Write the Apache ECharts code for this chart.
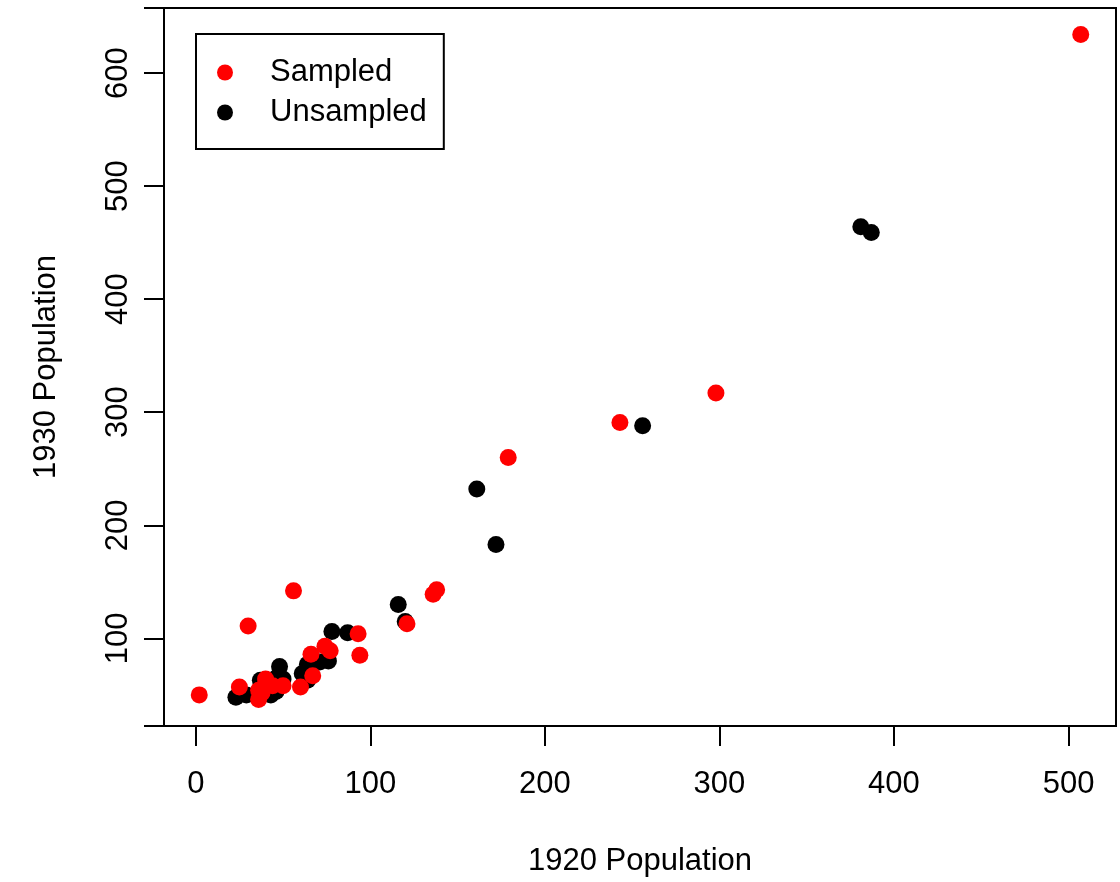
<!DOCTYPE html>
<html>
<head>
<meta charset="utf-8">
<script src="https://cdn.jsdelivr.net/npm/echarts@6/dist/echarts.min.js"></script>
<style>
html,body{margin:0;padding:0;background:#fff;}
#chart{width:1120px;height:882px;}
</style>
</head>
<body>
<div id="chart"></div>
<script>
// 1920 / 1930 populations (thousands)
const sampled1920 = [138, 93, 179, 30, 2, 38, 25, 298, 74, 50, 60, 507, 77, 40, 136, 243, 94, 36, 67, 66, 121, 44, 56, 40, 36];
const sampled1930 = [143, 104, 260, 111, 50, 52, 57, 317, 93, 58, 57, 634, 89, 60, 139, 291, 85, 46, 67, 86, 113, 58, 142, 64, 54];
const unsampled1920 = [61, 48, 37, 29, 23, 46, 71, 76, 381, 387, 78, 50, 64, 256, 45, 120, 172, 46, 64, 116, 87, 43, 43, 161];
const unsampled1930 = [69, 75, 63, 50, 48, 53, 79, 80, 464, 459, 106, 64, 77, 288, 53, 115, 183, 65, 63, 130, 105, 61, 50, 232];
const xTicks = [0, 100, 200, 300, 400, 500];
const yTicks = [100, 200, 300, 400, 500, 600];
const seriesNames = ['Sampled', 'Unsampled'];
const xName = '1920 Population';
const yName = '1930 Population';

function pairs(a, b) { return a.map((v, i) => [v, b[i]]); }
function padRange(arrs) {
  const all = [].concat(...arrs);
  const lo = Math.min(...all), hi = Math.max(...all);
  const d = (hi - lo) * 0.04;
  return [lo - d, hi + d];
}
const xr = padRange([sampled1920, unsampled1920]);
const yr = padRange([sampled1930, unsampled1930]);

const FONT = 'Liberation Sans, Arial, Helvetica, sans-serif';
const FS = 31;
const TICK_LEN = 20;

const chart = echarts.init(document.getElementById('chart'), null, {renderer: 'canvas'});
chart.setOption({
  animation: false,
  backgroundColor: '#ffffff',
  textStyle: {fontFamily: FONT, color: '#000'},
  grid: {
    left: 164, right: 4, top: 8, bottom: 153,
    show: true, borderColor: '#000', borderWidth: 2, backgroundColor: 'transparent',
    containLabel: false
  },
  legend: {
    orient: 'vertical', left: 196, top: 34,
    data: seriesNames,
    icon: 'circle', itemWidth: 16, itemHeight: 16, itemGap: 9,
    padding: [23, 17, 21, 21],
    borderColor: '#000', borderWidth: 2, borderRadius: 0,
    backgroundColor: '#fff',
    selectedMode: false,
    textStyle: {fontFamily: FONT, fontSize: FS, color: '#000', lineHeight: 30, padding: [0, 0, 0, 32]}
  },
  xAxis: {
    type: 'value', min: xr[0], max: xr[1],
    name: xName, nameLocation: 'middle', nameGap: 120,
    nameTextStyle: {fontFamily: FONT, fontSize: FS, color: '#000'},
    splitLine: {show: false},
    axisLine: {show: false, onZero: false},
    axisTick: {show: true, inside: false, length: TICK_LEN, lineStyle: {color: '#000', width: 2}, customValues: xTicks},
    axisLabel: {fontFamily: FONT, fontSize: FS, color: '#000', margin: 43, customValues: xTicks}
  },
  yAxis: {
    type: 'value', min: yr[0], max: yr[1], position: 'left',
    name: yName, nameLocation: 'middle', nameGap: 102, nameRotate: 90,
    nameTextStyle: {fontFamily: FONT, fontSize: FS, color: '#000'},
    splitLine: {show: false},
    axisLine: {show: true, onZero: false, lineStyle: {color: '#000', width: 2}},
    axisTick: {show: true, inside: false, length: TICK_LEN, lineStyle: {color: '#000', width: 2}},
    axisLabel: {fontFamily: FONT, fontSize: FS, color: '#000', margin: 30, rotate: 90, customValues: yTicks}
  },
  series: [
    {
      name: seriesNames[1], type: 'scatter',
      symbol: 'circle', symbolSize: 17,
      itemStyle: {color: '#000000', opacity: 1},
      data: pairs(unsampled1920, unsampled1930), z: 2
    },
    {
      name: seriesNames[0], type: 'scatter',
      symbol: 'circle', symbolSize: 17,
      itemStyle: {color: '#ff0000', opacity: 1},
      data: pairs(sampled1920, sampled1930), z: 3
    }
  ]
});
</script>
</body>
</html>
